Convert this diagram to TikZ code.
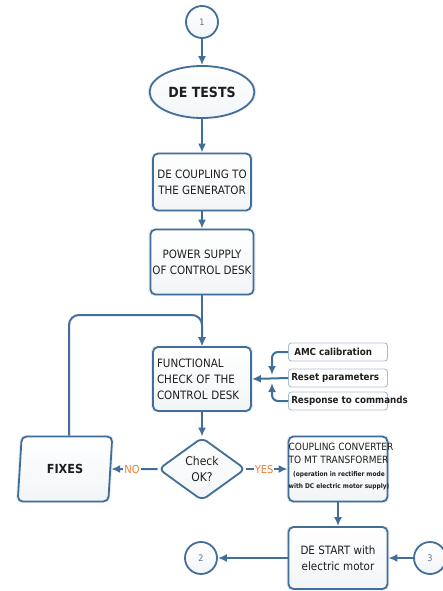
\documentclass[tikz,border=0pt]{standalone}
\usepackage{fontspec}
\setmainfont{DejaVu Sans}[FakeStretch=0.9]
\usepackage{tikz}
\usetikzlibrary{shapes.geometric,arrows.meta,shadows,positioning}
\tikzset{>={Latex[length=9pt,width=8pt]}}
\definecolor{flowline}{RGB}{66,110,154}
\definecolor{flowtext}{RGB}{30,30,30}
\definecolor{numtext}{RGB}{95,115,145}
\definecolor{answer}{RGB}{236,126,46}

\begin{document}
\begin{tikzpicture}[x=1pt,y=-1pt,
    shape base/.style={draw=flowline, line width=1.8pt, top color=white, bottom color=flowline!7,
        text=flowtext, drop shadow={shadow xshift=0pt, shadow yshift=0pt, shadow scale=1.04,
        fill=flowline!40, opacity=0.3}},
    boxnode/.style={shape base, rounded corners=5pt, align=center, inner sep=2pt,
        minimum width=98, font=\fontsize{11.5}{16}\selectfont},
    sidebox/.style={draw=flowline!45, line width=0.9pt, fill=white, rounded corners=3pt,
        minimum width=99, minimum height=18, inner sep=0pt},
    sidetext/.style={text=flowtext, font=\bfseries\fontsize{9.7}{11}\selectfont, inner sep=0pt},
    connector/.style={shape base, circle, minimum size=32, inner sep=0pt,
        text=numtext, font=\fontsize{9}{11}\selectfont},
    flowarrow/.style={draw=flowline, line width=2pt, ->},
    answerlabel/.style={fill=white, text=answer, inner sep=1pt, font=\fontsize{11}{13}\selectfont}]

            \useasboundingbox (0,0) rectangle (443,591);

            \node[connector] (c1) at (202,22) {1};
            \node[shape base, ellipse, minimum width=100, minimum height=52,
                font=\bfseries\fontsize{14}{16}\selectfont] (detests) at (202,92) {DE TESTS};
            \node[boxnode, minimum height=57] (coupgen) at (202,182) {DE COUPLING TO\\THE GENERATOR};
            \node[boxnode, minimum height=65] (power) at (202,262) {POWER SUPPLY\\OF CONTROL DESK};
            \node[boxnode, minimum height=64, align=left, text width=90, inner xsep=4pt]
                (func) at (202,379) {FUNCTIONAL\\CHECK OF THE\\CONTROL DESK};

            \node[sidebox] (amc) at (338,352) {};
            \node[sidetext, anchor=west] (amctext) at ([xshift=6pt]amc.west) {AMC calibration};
            \node[sidebox] (reset) at (338,378) {};
            \node[sidetext, anchor=west] (resettext) at ([xshift=3pt]reset.west) {Reset parameters};
            \node[sidebox] (resp) at (338,401) {};
            \node[sidetext, anchor=west] (resptext) at ([xshift=3pt]resp.west) {Response to commands};
            \coordinate (jn) at (272,379);

            \node[shape base, diamond, rounded corners=6pt, minimum width=87, minimum height=63,
                inner sep=0pt, align=center, font=\fontsize{12}{16}\selectfont]
                (check) at (202,469) {Check\\OK?};
            \node[shape base, trapezium, trapezium left angle=83, trapezium right angle=97,
                trapezium stretches=true, rounded corners=5pt, minimum width=95, minimum height=65,
                font=\bfseries\fontsize{12.5}{15}\selectfont] (fixes) at (65,469) {FIXES};

            \node[boxnode, minimum width=99, minimum height=65] (conv) at (338,469) {};
            \node[text=flowtext, align=left, inner sep=0pt, font=\fontsize{10}{13}\selectfont]
                (convtop) at (341,453) {COUPLING CONVERTER\\TO MT TRANSFORMER};
            \node[text=flowtext, align=center, inner sep=0pt, font=\bfseries\fontsize{6.5}{12}\selectfont]
                (convsub) at (339,481) {(operation in rectifier mode\\with DC electric motor supply)};

            \node[boxnode, minimum width=99, minimum height=62] (start) at (338,558) {DE START with\\electric motor};
            \node[connector] (c2) at (201,558) {2};
            \node[connector] (c3) at (430,558) {3};
            \coordinate (loop) at (202,315);

            \draw[flowarrow] (c1) -- (detests);
            \draw[flowarrow] (detests) -- (coupgen);
            \draw[flowarrow] (coupgen) -- (power);
            \draw[flowarrow] (power) -- (func);
            \draw[flowarrow, rounded corners=10pt] ([xshift=4pt]fixes.north) |- (loop) -- (func.north);

            \draw[flowarrow] (reset.west) -- (func.east);
            \draw[flowarrow, rounded corners=6pt] (amc.west) -| ([yshift=4pt]jn);
            \draw[flowarrow, rounded corners=6pt] (resp.west) -| ([yshift=-4pt]jn);

            \draw[flowarrow] (func) -- (check);
            \draw[flowarrow] (check.west) -- node[answerlabel, pos=0.55] {NO} (fixes.east);
            \draw[flowarrow] (check.east) -- node[answerlabel, pos=0.43] {YES} (conv.west);
            \draw[flowarrow] (conv) -- (start);
            \draw[flowarrow] (start) -- (c2);
            \draw[flowarrow] (c3) -- (start);
\end{tikzpicture}
\end{document}
